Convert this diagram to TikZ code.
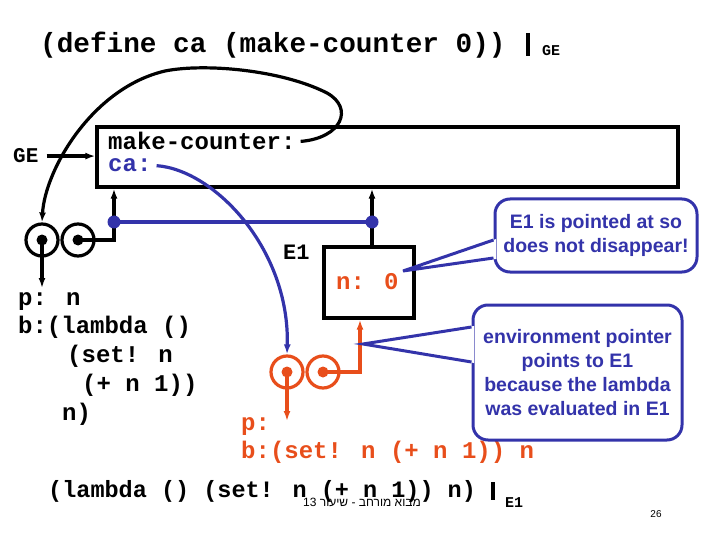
\documentclass[tikz,border=0pt]{standalone}
\usepackage{fontspec}
\setmainfont{Liberation Sans}
\newfontfamily\mono{Liberation Mono}
\newfontfamily\hebfont[Script=Hebrew]{Liberation Sans}
\TeXXeTstate=1
\usetikzlibrary{arrows.meta}
\definecolor{myblue}{RGB}{51,51,170}
\definecolor{myorange}{RGB}{232,78,27}
\begin{document}
\begin{tikzpicture}[x=1pt,y=-1pt,
  code/.style={font=\mono\bfseries\fontsize{24}{26}\selectfont, inner sep=0pt, anchor=base west},
  bigcode/.style={code, font=\mono\bfseries\fontsize{27.7}{30}\selectfont},
  smallcode/.style={code, font=\mono\bfseries\fontsize{15}{17}\selectfont},
  envbox/.style={draw, line width=3.2pt, inner sep=0pt},
  ring/.style={circle, draw, line width=3.2pt, minimum size=32pt, inner sep=0pt},
  pdot/.style={circle, fill, minimum size=11pt, inner sep=0pt},
  bdot/.style={circle, fill=myblue, minimum size=13pt, inner sep=0pt},
  arr/.style={line width=3.2pt, -{Latex[length=10pt,width=7pt]}},
  ln/.style={line width=3.2pt},
  callbox/.style={draw=myblue, fill=white, line width=3pt, rounded corners=15pt,
     inner sep=0pt, align=center, text=myblue,
     font=\bfseries\fontsize{19.5}{23.8}\selectfont},
  pointer/.style={draw=myblue, line width=3pt, line join=miter}
]
\useasboundingbox (0,0) rectangle (720,540);

% top expression
\node[bigcode] (def) at (40,53) {(define ca (make-counter 0))};
\draw[line width=3.5pt] (528,33) -- (528,56);
\node[smallcode] (ge1) at (542,56) {GE};

% global environment
\node[envbox, minimum width=581, minimum height=60] (gebox) at (387.5,157) {};
\node[code] (mc) at (108,150) {make-counter:};
\node[code, text=myblue] (ca) at (108,172) {ca:};
\node[code, font=\mono\bfseries\fontsize{21}{23}\selectfont] (gel) at (13,163) {GE};
\draw[arr] ([xshift=8pt]gel.east) -- (gebox.west |- gel.east);

% procedure make-counter
\node[ring] (c1) at (42,240) {};
\node[ring] (c2) at (78,240) {};
\node[pdot] (d1) at (c1.center) {};
\node[pdot] (d2) at (c2.center) {};
\coordinate (bd1pos) at (114,222);
\coordinate (bd2pos) at (372,222);
\coordinate (p1) at (42,288);
\draw[arr] (d1.center) -- (p1);
\draw[ln] (d2.center) -| (bd1pos);
\draw[arr] (bd1pos) -- (bd1pos |- gebox.south);

% E1
\node[envbox, minimum width=90, minimum height=71] (e1) at (369,282.5) {};
\node[code, font=\mono\bfseries\fontsize{22}{24}\selectfont] (e1l) at (283,259) {E1};
\node[code, text=myorange] (n0) at (336,289) {n: 0};
\draw[arr] (bd2pos |- e1.north) -- (bd2pos |- gebox.south);

% blue line and dots
\draw[myblue, line width=4.5pt] (bd1pos) -- (bd2pos);
\node[bdot] (bd1) at (bd1pos) {};
\node[bdot] (bd2) at (bd2pos) {};

% text of procedure
\node[code] (pn) at (18,305) {p: n};
\node[code] (bl) at (18,333) {b:(lambda ()};
\node[code] (sn) at (67,362) {(set! n};
\node[code] (pl) at (82,391) {(+ n 1))};
\node[code] (nn) at (62,420) {n)};

% orange procedure
\node[ring, draw=myorange] (o1) at (287,372) {};
\node[ring, draw=myorange] (o2) at (323,372) {};
\node[pdot, fill=myorange] (od1) at (o1.center) {};
\node[pdot, fill=myorange] (od2) at (o2.center) {};
\coordinate (op) at (287,421);
\coordinate (ocorner) at (360,372);
\draw[arr, myorange] (od1.center) -- (op);
\draw[arr, myorange] (od2.center) -- (ocorner) -- (ocorner |- e1.south);
\node[code, text=myorange] (op1) at (241,430) {p:};
\node[code, text=myorange] (ob) at (241,458) {b:(set! n (+ n 1)) n};

% curves
\draw[arr, myblue] ([xshift=5pt]ca.east) .. controls (215,170) and (290,250) .. (o1.north);
\draw[arr] ([xshift=5pt]mc.east) .. controls (342,138) and (354,108) .. (327,93)
   .. controls (282,70) and (205,63) .. (165,71)
   .. controls (92,88) and (45,170) .. (c1.north);

% callout 1
\node[callbox, minimum width=202, minimum height=73] (cb1) at (596,235.5)
   {E1 is pointed at so\\does not disappear!};
\coordinate (tip1) at (403,271);
\fill[white] ([xshift=2.5pt,yshift=-3.5pt]cb1.west) -- (tip1) -- ([xshift=2.5pt,yshift=-23.5pt]cb1.west) -- cycle;
\draw[pointer] ([yshift=-4.5pt]cb1.west) -- (tip1) -- ([yshift=-22.5pt]cb1.west);

% callout 2
\node[callbox, minimum width=209, minimum height=135] (cb2) at (577.5,372.5)
   {environment pointer\\points to E1\\because the lambda\\was evaluated in E1};
\coordinate (tip2) at (363,344);
\fill[white] ([xshift=2.5pt,yshift=46.5pt]cb2.west) -- (tip2) -- ([xshift=2.5pt,yshift=9.5pt]cb2.west) -- cycle;
\draw[pointer] ([yshift=45.5pt]cb2.west) -- (tip2) -- ([yshift=10.5pt]cb2.west);

% bottom expression
\node[code, font=\mono\bfseries\fontsize{23.5}{25}\selectfont] (lam) at (48,497) {(lambda () (set! n (+ n 1)) n)};
\draw[line width=3.5pt] (493,482) -- (493,500);
\node[smallcode] (e1b) at (505,507) {E1};

% footer
\node[anchor=base, inner sep=0pt, font=\hebfont\fontsize{12}{14}\selectfont] (foot) at (362,506)
   {\beginR מבוא מורחב - שיעור \beginL 13\endL\endR};
\node[anchor=base, inner sep=0pt, font=\fontsize{10}{12}\selectfont] (pg) at (656,517) {26};
\end{tikzpicture}
\end{document}
